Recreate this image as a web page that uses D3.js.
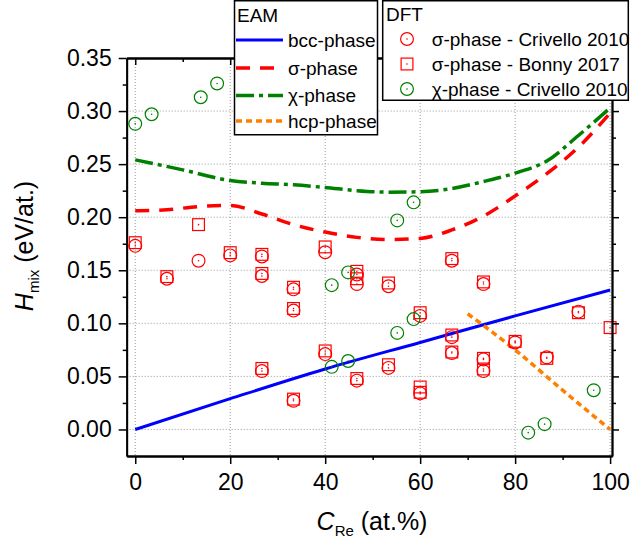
<!DOCTYPE html>
<html>
<head>
<meta charset="utf-8">
<script src="https://cdn.jsdelivr.net/npm/d3@7"></script>
<style>
  html, body { margin: 0; padding: 0; background: #fff; }
  svg { display: block; font-family: "Liberation Sans", Arial, Helvetica, sans-serif; }
</style>
</head>
<body>
<svg id="chart" width="630" height="545"></svg>
<script>
// ---- EAM curves (mixing enthalpy vs Re concentration) ----
const bccX = [0, 20, 40, 60, 80, 100];
const bccH = [0, 0.029, 0.057, 0.082, 0.107, 0.1314];

const sigmaX = [0, 6.67, 13.33, 20, 26.67, 33.33, 40, 46.67, 53.33, 60, 66.67, 73.33, 80, 86.67, 93.33, 100];
const sigmaH = [0.206, 0.207, 0.210, 0.211, 0.203, 0.193, 0.186, 0.181, 0.179, 0.180, 0.188, 0.201, 0.220, 0.241, 0.266, 0.298];

const chiX = [0, 10, 20, 26.67, 33.33, 40, 46.67, 53.33, 60, 66.67, 73.33, 80, 86.67, 93.33, 100];
const chiH = [0.254, 0.2446, 0.2345, 0.232, 0.2305, 0.228, 0.225, 0.2236, 0.224, 0.227, 0.2336, 0.2415, 0.253, 0.277, 0.303];

const hcpX = [70, 80, 90, 100];
const hcpH = [0.109, 0.075, 0.037, 0.0];

// ---- DFT reference points ----
const crivelloSigmaX = [0, 6.67, 13.33, 20, 26.67, 26.67, 26.67, 33.33, 33.33, 33.33, 40, 40,
  46.67, 46.67, 46.67, 53.33, 53.33, 60, 60, 66.67, 66.67, 66.67, 73.33, 73.33, 73.33, 80, 86.67, 93.33];
const crivelloSigmaH = [0.173, 0.142, 0.159, 0.164, 0.163, 0.1446, 0.055, 0.132, 0.112, 0.027, 0.167, 0.071,
  0.146, 0.137, 0.046, 0.135, 0.058, 0.107, 0.034, 0.159, 0.087, 0.072, 0.137, 0.066, 0.055, 0.082, 0.068, 0.111];

const bonnySigmaX = [0, 6.67, 13.33, 20, 26.67, 26.67, 26.67, 33.33, 33.33, 33.33, 40, 40,
  46.67, 46.67, 46.67, 53.33, 53.33, 60, 60, 60, 66.67, 66.67, 66.67, 73.33, 73.33, 73.33, 80, 86.67, 93.33, 100];
const bonnySigmaH = [0.176, 0.144, 0.193, 0.1666, 0.165, 0.147, 0.0575, 0.134, 0.114, 0.0286, 0.172, 0.074,
  0.149, 0.142, 0.048, 0.138, 0.061, 0.110, 0.040, 0.035, 0.161, 0.089, 0.073, 0.139, 0.067, 0.057, 0.083, 0.067, 0.110, 0.096];

const crivelloChiX = [0, 3.45, 13.79, 17.24, 41.38, 41.38, 44.83, 44.83, 55.17, 55.17, 58.62, 58.62, 82.76, 86.21, 96.55];
const crivelloChiH = [0.288, 0.297, 0.313, 0.326, 0.136, 0.059, 0.148, 0.0645, 0.197, 0.091, 0.214, 0.104, -0.003, 0.005, 0.037];

// ---- ticks ----
const xTicks = [0, 20, 40, 60, 80, 100];
const xMinorTicks = [10, 30, 50, 70, 90];
const yTicks = [0, 0.05, 0.10, 0.15, 0.20, 0.25, 0.30, 0.35];
const yMinorTicks = [0.025, 0.075, 0.125, 0.175, 0.225, 0.275, 0.325];

// ---- legend labels ----
const eamTitle = "EAM";
const eamLabels = ["bcc-phase", "σ-phase", "χ-phase", "hcp-phase"];
const dftTitle = "DFT";
const dftLabels = ["σ-phase - Crivello 2010", "σ-phase - Bonny 2017", "χ-phase - Crivello 2010"];

const colors = { bcc: "#0000ff", sigma: "#ff0000", chi: "#008000", hcp: "#ff8000" };

const svg = d3.select("#chart");

const plot = { left: 126.7, right: 612, top: 58, bottom: 456 };
const x = d3.scaleLinear().domain([-1.8, 100.4]).range([plot.left, plot.right]);
const y = d3.scaleLinear().domain([-0.025, 0.35]).range([plot.bottom, plot.top]);

// grid
const grid = svg.append("g").attr("stroke", "#9a9a9a").attr("stroke-width", 1).attr("stroke-dasharray", "1,2");
grid.selectAll("line.gx").data(xTicks).join("line")
  .attr("x1", d => x(d)).attr("x2", d => x(d))
  .attr("y1", plot.top).attr("y2", plot.bottom);
grid.selectAll("line.gy").data(yTicks).join("line")
  .attr("y1", d => y(d)).attr("y2", d => y(d))
  .attr("x1", plot.left).attr("x2", plot.right);

// curves
const lineGen = (xs, ys) => d3.line()
  .x(i => x(xs[i])).y(i => y(ys[i]))
  .curve(d3.curveMonotoneX)(d3.range(xs.length));

const curves = [
  { xs: bccX, ys: bccH, color: colors.bcc, dash: null, w: 3 },
  { xs: sigmaX, ys: sigmaH, color: colors.sigma, dash: "14,10", w: 3.5 },
  { xs: chiX, ys: chiH, color: colors.chi, dash: "18,5,4,5", w: 3.5 },
  { xs: hcpX, ys: hcpH, color: colors.hcp, dash: "6,4", w: 3.5 }
];
svg.append("g").selectAll("path").data(curves).join("path")
  .attr("d", c => lineGen(c.xs, c.ys))
  .attr("fill", "none")
  .attr("stroke", c => c.color)
  .attr("stroke-width", c => c.w)
  .attr("stroke-dasharray", c => c.dash);

// markers
function circleMarker(g, cx, cy, color) {
  g.append("circle").attr("cx", cx).attr("cy", cy).attr("r", 6.4)
    .attr("fill", "none").attr("stroke", color).attr("stroke-width", 1.2);
  g.append("circle").attr("cx", cx).attr("cy", cy).attr("r", 0.8).attr("fill", color);
}
function squareMarker(g, cx, cy, color) {
  const s = 11.8;
  g.append("rect").attr("x", cx - s / 2).attr("y", cy - s / 2).attr("width", s).attr("height", s)
    .attr("fill", "none").attr("stroke", color).attr("stroke-width", 1.2);
  g.append("circle").attr("cx", cx).attr("cy", cy).attr("r", 0.8).attr("fill", color);
}
const mk = svg.append("g");
crivelloSigmaX.forEach((v, i) => circleMarker(mk, x(v), y(crivelloSigmaH[i]), colors.sigma));
bonnySigmaX.forEach((v, i) => squareMarker(mk, x(v), y(bonnySigmaH[i]), colors.sigma));
crivelloChiX.forEach((v, i) => circleMarker(mk, x(v), y(crivelloChiH[i]), colors.chi));

// axes
const tickFont = "23px";
svg.append("g").attr("transform", `translate(${plot.left},0)`)
  .call(d3.axisLeft(y).tickValues(yTicks).tickSize(8).tickPadding(7).tickSizeOuter(0).tickFormat(d3.format(".2f")));
svg.append("g").attr("transform", `translate(${plot.left},0)`)
  .call(d3.axisLeft(y).tickValues(yMinorTicks).tickSize(4).tickSizeOuter(0).tickFormat(""));
svg.append("g").attr("transform", `translate(0,${plot.bottom})`)
  .call(d3.axisBottom(x).tickValues(xTicks).tickSize(8).tickPadding(9.6).tickSizeOuter(0).tickFormat(d3.format("d")));
svg.append("g").attr("transform", `translate(0,${plot.bottom})`)
  .call(d3.axisBottom(x).tickValues(xMinorTicks).tickSize(4).tickSizeOuter(0).tickFormat(""));
svg.append("g").attr("transform", `translate(0,${plot.top})`)
  .call(d3.axisTop(x).tickValues(xTicks).tickSize(-7).tickSizeOuter(0).tickFormat(""));
svg.append("g").attr("transform", `translate(0,${plot.top})`)
  .call(d3.axisTop(x).tickValues(xMinorTicks).tickSize(-4).tickSizeOuter(0).tickFormat(""));
svg.append("g").attr("transform", `translate(${plot.right},0)`)
  .call(d3.axisRight(y).tickValues(yTicks).tickSize(7).tickSizeOuter(0).tickFormat(""));
svg.append("g").attr("transform", `translate(${plot.right},0)`)
  .call(d3.axisRight(y).tickValues(yMinorTicks).tickSize(4).tickSizeOuter(0).tickFormat(""));

svg.selectAll(".domain").attr("stroke", "#000").attr("stroke-width", 1.8);
svg.selectAll(".tick line").attr("stroke", "#000").attr("stroke-width", 1.5);
svg.selectAll(".tick text").attr("font-size", tickFont).attr("fill", "#000")
  .attr("font-family", "'Liberation Sans', Arial, sans-serif");

// axis titles
const yTitle = svg.append("text")
  .attr("transform", "translate(33,246) rotate(-90)")
  .attr("text-anchor", "middle").attr("font-size", 25).attr("fill", "#000");
yTitle.append("tspan").attr("font-style", "italic").text("H");
yTitle.append("tspan").attr("font-size", 15).attr("dy", 6).text("mix");
yTitle.append("tspan").attr("dy", -6).text(" (eV/at.)");

const xTitle = svg.append("text")
  .attr("x", 372).attr("y", 530)
  .attr("text-anchor", "middle").attr("font-size", 25).attr("fill", "#000");
xTitle.append("tspan").attr("font-style", "italic").text("C");
xTitle.append("tspan").attr("font-size", 15).attr("dy", 6).text("Re");
xTitle.append("tspan").attr("dy", -6).text(" (at.%)");

// EAM legend
const legFont = 19;
const eam = svg.append("g");
eam.append("rect").attr("x", 234.5).attr("y", 0.75).attr("width", 143).attr("height", 134)
  .attr("fill", "#fff").attr("stroke", "#000").attr("stroke-width", 1.5);
eam.append("text").attr("x", 237).attr("y", 21.5).attr("font-size", legFont).text(eamTitle);
const eamY = [40, 68, 95.5, 121];
curves.forEach((c, i) => {
  eam.append("line").attr("x1", 236).attr("x2", 283).attr("y1", eamY[i]).attr("y2", eamY[i])
    .attr("stroke", c.color).attr("stroke-width", c.w).attr("stroke-dasharray", c.dash);
  eam.append("text").attr("x", 288).attr("y", eamY[i] + 6.8).attr("font-size", legFont).text(eamLabels[i]);
});

// DFT legend
const dft = svg.append("g");
dft.append("rect").attr("x", 382.7).attr("y", 0.75).attr("width", 245.6).attr("height", 99.5)
  .attr("fill", "#fff").attr("stroke", "#000").attr("stroke-width", 1.5);
dft.append("text").attr("x", 386).attr("y", 21).attr("font-size", legFont).text(dftTitle);
const dftY = [39, 64, 89];
circleMarker(dft, 407, dftY[0], colors.sigma);
squareMarker(dft, 407, dftY[1], colors.sigma);
circleMarker(dft, 407, dftY[2], colors.chi);
dftLabels.forEach((t, i) => {
  dft.append("text").attr("x", 431.7).attr("y", dftY[i] + 6.8).attr("font-size", legFont).text(t);
});
</script>
</body>
</html>
